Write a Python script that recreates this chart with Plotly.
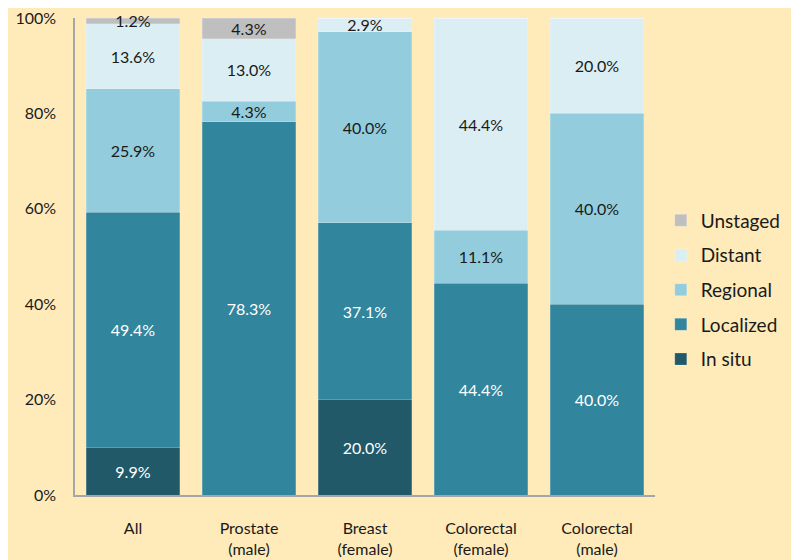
import plotly.graph_objects as go

categories = ["All", "Prostate<br>(male)", "Breast<br>(female)", "Colorectal<br>(female)", "Colorectal<br>(male)"]
in_situ = [9.9, 0, 20.0, 0, 0]
localized = [49.4, 78.3, 37.1, 44.4, 40.0]
regional = [25.9, 4.3, 40.0, 11.1, 40.0]
distant = [13.6, 13.0, 2.9, 44.4, 20.0]
unstaged = [1.2, 4.3, 0, 0, 0]
y_ticks = [0, 20, 40, 60, 80, 100]
y_tick_labels = ["0%", "20%", "40%", "60%", "80%", "100%"]

series = [
    ("In situ", in_situ, "#215968", "white"),
    ("Localized", localized, "#31859C", "white"),
    ("Regional", regional, "#93CDDD", "#1a1a1a"),
    ("Distant", distant, "#DAEEF3", "#1a1a1a"),
    ("Unstaged", unstaged, "#BFBFBF", "#1a1a1a"),
]

BG = "#FFEABA"
FONT = "Lato"

fig = go.Figure()
for i, (name, vals, color, tcolor) in enumerate(series):
    fig.add_trace(go.Bar(
        x=categories, y=vals, name=name, legendgroup=name,
        legendrank=len(series) - i,
        marker=dict(color=color, line=dict(width=0.6, color="rgba(255,255,255,0.35)")),
        text=[f"{v:.1f}%" if v > 0 else "" for v in vals],
        textposition="inside", insidetextanchor="middle", constraintext="none",
        textfont=dict(color=tcolor, size=16, family=FONT),
        textangle=0, cliponaxis=False,
    ))

fig.update_layout(
    barmode="stack",
    bargap=0.19,
    width=799, height=560,
    paper_bgcolor=BG, plot_bgcolor=BG,
    margin=dict(l=67, r=152, t=10, b=73, autoexpand=False),
    font=dict(family=FONT, size=16, color="#1a1a1a"),
    legend=dict(
        x=1.01, xanchor="left", y=0.43, yanchor="middle",
        traceorder="grouped", tracegroupgap=7,
        font=dict(size=19, family=FONT),
        bgcolor="rgba(0,0,0,0)",
    ),
    showlegend=True,
)
fig.update_yaxes(
    range=[0, 100], tickvals=y_ticks, ticktext=y_tick_labels,
    showgrid=False, zeroline=False, automargin=False,
    showline=True, linecolor="#A6A6A6", linewidth=1.5,
    ticks="", ticklabelstandoff=14, ticklabeloverflow="allow",
    tickfont=dict(size=16, family=FONT),
)
fig.update_xaxes(
    showgrid=False, showline=True, linecolor="#A6A6A6", linewidth=1.5,
    ticks="", ticklabelstandoff=18, automargin=False, ticklabeloverflow="allow",
    tickfont=dict(size=16, family=FONT),
)

fig.write_html("out.html")
